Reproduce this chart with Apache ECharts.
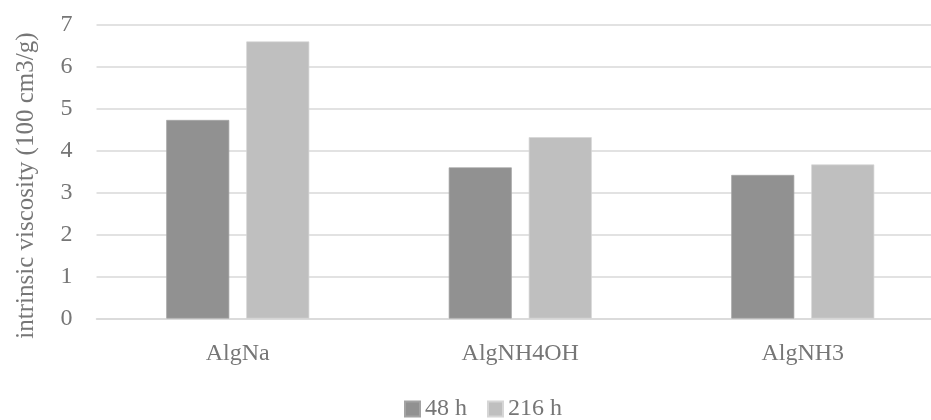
<!DOCTYPE html>
<html>
<head>
<meta charset="utf-8">
<script src="https://cdn.jsdelivr.net/npm/echarts@6/dist/echarts.min.js"></script>
<style>html,body{margin:0;padding:0;background:#fff;overflow:hidden}#c{width:944px;height:420px}</style>
</head>
<body>
<div id="c"></div>
<script>
const categories = ['AlgNa', 'AlgNH4OH', 'AlgNH3'];
const series48h = [4.73, 3.60, 3.42];
const series216h = [6.60, 4.32, 3.67];
const seriesNames = ['48 h', '216 h'];
const yAxisName = 'intrinsic viscosity (100 cm3/g)';

const FONT = 'Liberation Serif';
const FS = 24;
const TXT = '#767676';
const chart = echarts.init(document.getElementById('c'), null, {renderer: 'canvas'});
chart.setOption({
  animation: false,
  textStyle: {fontFamily: FONT},
  grid: {left: 96.5, right: 0, top: 24.7, bottom: 101.5},
  legend: {
    top: 392, left: 399,
    itemWidth: 15, itemHeight: 15, itemGap: 20,
    icon: 'rect',
    textStyle: {fontFamily: FONT, fontSize: FS, color: TXT},
    data: seriesNames
  },
  xAxis: {
    type: 'category', data: categories,
    axisLine: {show: true, lineStyle: {color: '#d9d9d9', width: 1.5}},
    axisTick: {show: false},
    axisLabel: {fontFamily: FONT, fontSize: FS, color: TXT, margin: 23}
  },
  yAxis: {
    type: 'value', min: 0, max: 7, interval: 1,
    name: yAxisName, nameLocation: 'middle', nameGap: 58,
    nameTextStyle: {fontFamily: FONT, fontSize: 25, color: TXT, padding: [0, 28, 0, 0]},
    axisLine: {show: false}, axisTick: {show: false},
    axisLabel: {fontFamily: FONT, fontSize: FS, color: TXT, margin: 24},
    splitLine: {lineStyle: {color: '#d9d9d9', width: 1.5}}
  },
  series: [
    {name: seriesNames[0], type: 'bar', data: series48h, barWidth: '22.3%', barGap: '27%',
     itemStyle: {color: '#919191', borderColor: '#a3a3a3', borderWidth: 0.7}},
    {name: seriesNames[1], type: 'bar', data: series216h, barWidth: '22.3%', barGap: '27%',
     itemStyle: {color: '#bfbfbf', borderColor: '#d6d6d6', borderWidth: 0.7}}
  ]
});
</script>
</body>
</html>
